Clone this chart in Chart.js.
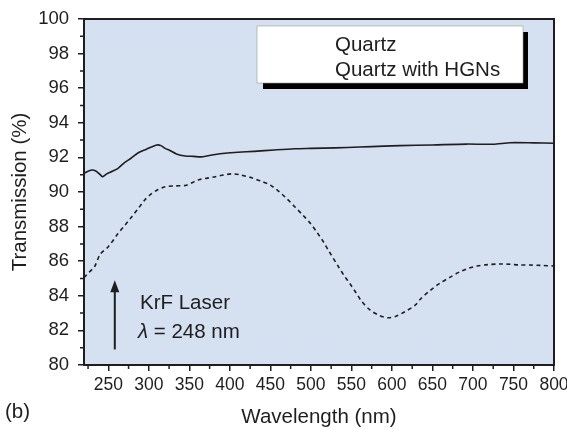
<!DOCTYPE html>
<html>
<head>
<meta charset="utf-8">
<script src="https://cdn.jsdelivr.net/npm/chart.js@4.4.0/dist/chart.umd.min.js"></script>
<style>
html, body { margin: 0; padding: 0; background: #fff; }
#wrap { width: 567px; height: 430px; }
</style>
</head>
<body>
<div id="wrap"><canvas id="chart" width="567" height="430"></canvas></div>
<script>
// ---------- Data ----------
const seriesNames = ['Quartz', 'Quartz with HGNs'];

const quartzWl = [220, 225, 230, 235, 240, 243, 248, 255, 262, 270, 278, 287, 297, 303, 310, 315, 320, 326, 334, 345,
    355, 365, 380, 394, 410, 430, 455, 480, 500, 530, 560, 590, 610, 650, 692, 725, 746, 775, 800];
const quartzT = [91.08, 91.2, 91.27, 91.2, 91.0, 90.88, 91.05, 91.2, 91.37, 91.7, 91.95, 92.27, 92.47, 92.6, 92.72, 92.68,
    92.52, 92.4, 92.2, 92.08, 92.06, 92.03, 92.15, 92.24, 92.3, 92.35, 92.43, 92.5, 92.52, 92.55, 92.6, 92.65, 92.68,
    92.72, 92.77, 92.76, 92.85, 92.84, 92.82];

const hgnWl = [220, 226, 233, 240, 250, 262, 270, 279, 287, 295, 302, 310, 320, 332, 345, 352, 361, 372, 382, 392, 402,
    412, 427, 440, 450, 460, 470, 480, 490, 500, 507, 515, 522, 534, 542, 548, 556, 563, 573, 585, 595, 605, 616, 629,
    635, 647, 659, 672, 684, 695, 705, 718, 734, 746, 758, 770, 783, 800];
const hgnT = [85.05, 85.35, 85.68, 86.4, 86.84, 87.6, 88.05, 88.57, 89.05, 89.54, 89.85, 90.1, 90.3, 90.35, 90.38, 90.5,
    90.7, 90.8, 90.88, 90.98, 91.05, 91.0, 90.82, 90.6, 90.4, 90.05, 89.63, 89.15, 88.67, 88.15, 87.7, 87.15, 86.6,
    85.68, 85.1, 84.72, 84.15, 83.66, 83.18, 82.85, 82.73, 82.82, 83.08, 83.47, 83.8, 84.3, 84.72, 85.08, 85.39, 85.6,
    85.72, 85.8, 85.84, 85.82, 85.78, 85.78, 85.76, 85.72];

const xTicks = [250, 300, 350, 400, 450, 500, 550, 600, 650, 700, 750, 800];
const xMinorTicks = [225, 275, 325, 375, 425, 475, 525, 575, 625, 675, 725, 775];
const yTicks = [80, 82, 84, 86, 88, 90, 92, 94, 96, 98, 100];
const yMinorTicks = [81, 83, 85, 87, 89, 91, 93, 95, 97, 99];

// annotation: laser arrow (wavelength, from, to)
const laserArrow = { wl: 258, from: 80.9, to: 84.9 };

const FONT = "'Liberation Sans', Arial, sans-serif";
const INK = '#1e1e1e';

const toPoints = (xs, ys) => xs.map((x, i) => ({ x: x, y: ys[i] }));

// ---------- Extra drawing (background, frame, minor ticks, legend, notes) ----------
const decorPlugin = {
    id: 'decor',
    beforeDraw(chart) {
        const { ctx, chartArea: a } = chart;
        ctx.save();
        ctx.fillStyle = '#d5e0f1';
        ctx.fillRect(a.left, a.top, a.right - a.left, a.bottom - a.top);
        ctx.restore();
    },
    afterDraw(chart) {
        const { ctx, chartArea: a } = chart;
        const xs = chart.scales.x, ys = chart.scales.y;
        ctx.save();

        // frame
        ctx.strokeStyle = INK;
        ctx.lineWidth = 2;
        ctx.strokeRect(a.left, a.top, a.right - a.left, a.bottom - a.top);

        // minor ticks
        ctx.lineWidth = 1.5;
        ctx.beginPath();
        xMinorTicks.forEach(v => {
            const px = xs.getPixelForValue(v);
            ctx.moveTo(px, a.bottom);
            ctx.lineTo(px, a.bottom + 4);
        });
        yMinorTicks.forEach(v => {
            const py = ys.getPixelForValue(v);
            ctx.moveTo(a.left, py);
            ctx.lineTo(a.left - 4, py);
        });
        ctx.stroke();

        // legend box (text only, with drop shadow)
        ctx.fillStyle = '#000';
        ctx.fillRect(263, 32, 265, 57);
        ctx.fillStyle = '#fff';
        ctx.fillRect(257, 26, 266, 57);
        ctx.strokeStyle = '#999';
        ctx.lineWidth = 0.6;
        ctx.strokeRect(257, 26, 266, 57);
        ctx.fillStyle = INK;
        ctx.font = '20.5px ' + FONT;
        ctx.textBaseline = 'middle';
        ctx.textAlign = 'left';
        ctx.fillText(seriesNames[0], 335, 45);
        ctx.fillText(seriesNames[1], 335, 70);

        // laser arrow
        const ax = xs.getPixelForValue(laserArrow.wl);
        const y0 = ys.getPixelForValue(laserArrow.from);
        const y1 = ys.getPixelForValue(laserArrow.to);
        ctx.strokeStyle = INK;
        ctx.lineWidth = 2;
        ctx.beginPath();
        ctx.moveTo(ax, y0);
        ctx.lineTo(ax, y1 + 8);
        ctx.stroke();
        ctx.beginPath();
        ctx.moveTo(ax, y1);
        ctx.lineTo(ax - 4.5, y1 + 12);
        ctx.lineTo(ax + 4.5, y1 + 12);
        ctx.closePath();
        ctx.fill();

        ctx.font = '20.5px ' + FONT;
        ctx.fillText('KrF Laser', 140, 303);
        ctx.font = 'italic 20.5px ' + FONT;
        ctx.fillText('\u03bb', 138, 332);
        const lw = ctx.measureText('\u03bb').width;
        ctx.font = '20.5px ' + FONT;
        ctx.fillText(' = 248 nm', 138 + lw, 332);

        // panel letter
        ctx.fillText('(b)', 5, 412);
        ctx.restore();
    }
};

// ---------- Chart ----------
const ctx = document.getElementById('chart').getContext('2d');
const chart = new Chart(ctx, {
    type: 'scatter',
    data: {
        datasets: [{
            label: seriesNames[0],
            data: toPoints(quartzWl, quartzT),
            showLine: true,
            borderColor: INK,
            borderWidth: 1.6,
            pointRadius: 0,
            tension: 0.25
        }, {
            label: seriesNames[1],
            data: toPoints(hgnWl, hgnT),
            showLine: true,
            borderColor: INK,
            borderWidth: 1.6,
            borderDash: [4, 3.5],
            pointRadius: 0,
            tension: 0.3
        }]
    },
    options: {
        responsive: false,
        animation: false,
        layout: { padding: { top: 19, right: 13, left: 0, bottom: 0 } },
        plugins: { legend: { display: false }, tooltip: { enabled: false } },
        scales: {
            x: {
                type: 'linear',
                min: 220,
                max: 800,
                afterBuildTicks: s => { s.ticks = xTicks.map(v => ({ value: v })); },
                afterFit: s => { s.height = 65; s.paddingLeft = 0; s.paddingRight = 0; },
                grid: { drawOnChartArea: false, tickLength: 6, color: INK, lineWidth: 1.5 },
                border: { display: true, color: INK, width: 2 },
                ticks: { color: INK, font: { family: FONT, size: 17.5 }, padding: 4, maxRotation: 0, autoSkip: false },
                title: { display: true, text: 'Wavelength (nm)', color: INK, font: { family: FONT, size: 20.5 }, padding: 0 }
            },
            y: {
                min: 80,
                max: 100,
                afterBuildTicks: s => { s.ticks = yTicks.map(v => ({ value: v })); },
                afterFit: s => { s.width = 84; s.paddingTop = 0; s.paddingBottom = 0; },
                grid: { drawOnChartArea: false, tickLength: 6, color: INK, lineWidth: 1.5 },
                border: { display: true, color: INK, width: 2 },
                ticks: { color: INK, font: { family: FONT, size: 18.5 }, padding: 9, autoSkip: false },
                title: { display: true, text: 'Transmission (%)', color: INK, font: { family: FONT, size: 20.5 }, padding: { top: 8, bottom: 0 } }
            }
        }
    },
    plugins: [decorPlugin]
});
</script>
</body>
</html>
